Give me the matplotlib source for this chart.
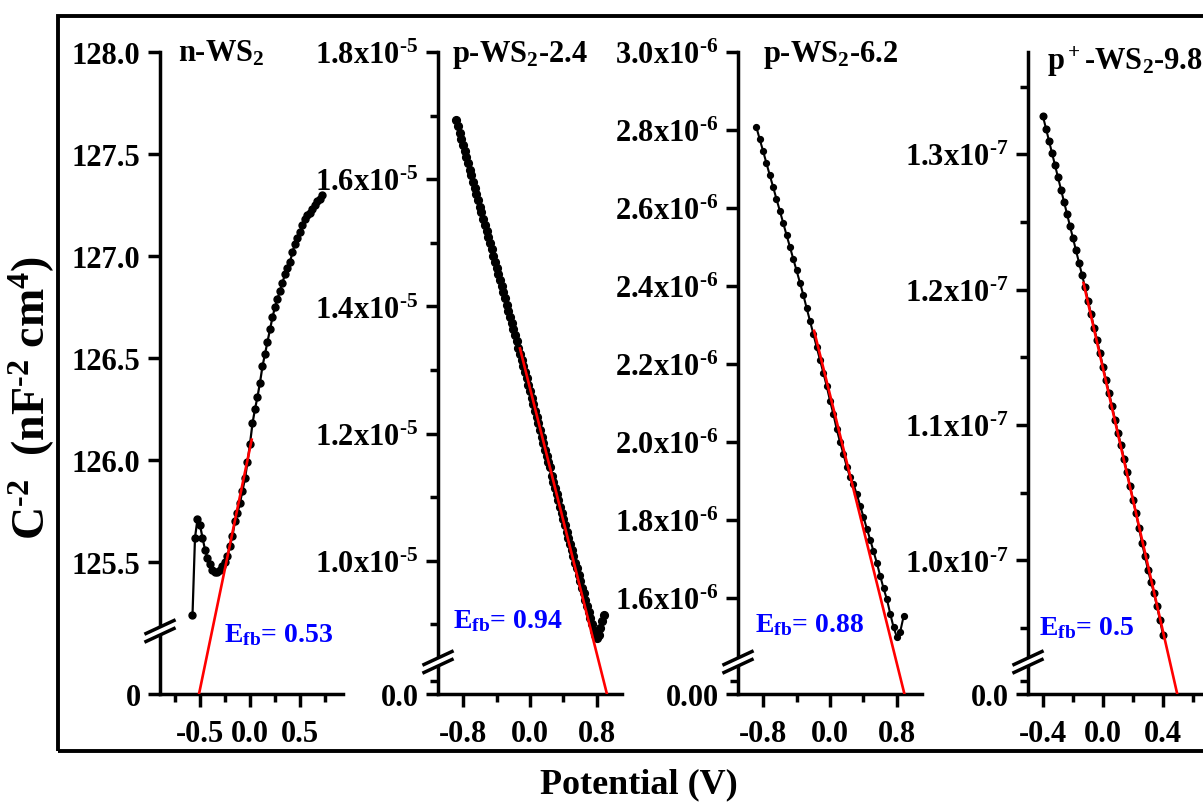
import numpy as np
import matplotlib
matplotlib.use('Agg')
import matplotlib.pyplot as plt
from matplotlib.lines import Line2D
from matplotlib.patches import Polygon, Rectangle

plt.rcParams['font.family'] = ['Liberation Serif', 'DejaVu Serif']
plt.rcParams['font.weight'] = 'bold'
plt.rcParams['mathtext.fontset'] = 'custom'
plt.rcParams['mathtext.rm'] = 'Liberation Serif:bold'
plt.rcParams['mathtext.it'] = 'Liberation Serif:bold'
plt.rcParams['mathtext.bf'] = 'Liberation Serif:bold'
plt.rcParams['mathtext.default'] = 'rm'

# ---------------- data ----------------
# n-WS2
n_V = [-0.575, -0.55, -0.525, -0.50, -0.475, -0.45, -0.425, -0.40, -0.375, -0.35,
       -0.325, -0.30, -0.275, -0.25, -0.225, -0.20, -0.175, -0.15, -0.125, -0.10,
       -0.075, -0.05, -0.025, 0.0, 0.025, 0.05, 0.075, 0.10, 0.125, 0.15,
       0.175, 0.20, 0.225, 0.25, 0.275, 0.30, 0.325, 0.35, 0.375, 0.40,
       0.425, 0.45, 0.475, 0.50, 0.525, 0.55, 0.575, 0.60, 0.625, 0.65,
       0.675, 0.70, 0.725]
n_C = [125.24, 125.62, 125.71, 125.68, 125.62, 125.56, 125.52, 125.49, 125.46, 125.45,
       125.45, 125.46, 125.48, 125.50, 125.53, 125.58, 125.63, 125.70, 125.74, 125.79,
       125.85, 125.91, 125.99, 126.08, 126.18, 126.25, 126.31, 126.38, 126.46, 126.52,
       126.58, 126.64, 126.70, 126.75, 126.79, 126.83, 126.87, 126.91, 126.94, 126.97,
       127.02, 127.06, 127.09, 127.12, 127.15, 127.18, 127.20, 127.21, 127.23, 127.25,
       127.27, 127.28, 127.30]
n_fit_V = [-0.51, 0.017]
n_fit_C = [0.0, 126.10]

# p-WS2-2.4 (values in 1e-5)
p24_unit = 1e-5
p24_V = [-0.88, -0.86, -0.84, -0.82, -0.80, -0.78, -0.76, -0.74, -0.72, -0.70,
         -0.68, -0.66, -0.64, -0.62, -0.60, -0.58, -0.56, -0.54, -0.52, -0.50,
         -0.48, -0.46, -0.44, -0.42, -0.40, -0.38, -0.36, -0.34, -0.32, -0.30,
         -0.28, -0.26, -0.24, -0.22, -0.20, -0.18, -0.16, -0.14, -0.12, -0.10,
         -0.08, -0.06, -0.04, -0.02, 0.00, 0.02, 0.04, 0.06, 0.08, 0.10,
         0.12, 0.14, 0.16, 0.18, 0.20, 0.22, 0.24, 0.26, 0.28, 0.30,
         0.32, 0.34, 0.36, 0.38, 0.40, 0.42, 0.44, 0.46, 0.48, 0.50,
         0.52, 0.54, 0.56, 0.58, 0.60, 0.62, 0.64, 0.66, 0.68, 0.70,
         0.72, 0.74, 0.76, 0.78, 0.80, 0.82, 0.84, 0.86, 0.88]
p24_C = [1.693, 1.683, 1.673, 1.664, 1.654, 1.644, 1.635, 1.625, 1.615, 1.606,
         1.596, 1.586, 1.577, 1.567, 1.557, 1.548, 1.538, 1.528, 1.519, 1.509,
         1.499, 1.490, 1.480, 1.470, 1.461, 1.451, 1.442, 1.432, 1.422, 1.413,
         1.403, 1.393, 1.384, 1.374, 1.364, 1.355, 1.345, 1.335, 1.326, 1.316,
         1.306, 1.297, 1.287, 1.277, 1.267, 1.256, 1.246, 1.236, 1.226, 1.216,
         1.205, 1.195, 1.185, 1.175, 1.165, 1.156, 1.148, 1.134, 1.124, 1.115,
         1.105, 1.095, 1.085, 1.075, 1.066, 1.056, 1.046, 1.036, 1.027, 1.017,
         1.007, 0.997, 0.988, 0.978, 0.968, 0.958, 0.949, 0.939, 0.929, 0.919,
         0.910, 0.900, 0.890, 0.883, 0.878, 0.884, 0.895, 0.905, 0.915]
p24_fit_V = [-0.12, 0.92]
p24_fit_C = [1.334, 0.0]

# p-WS2-6.2 (values in 1e-6)
p62_unit = 1e-6
p62_V = [-0.88, -0.84, -0.80, -0.76, -0.72, -0.68, -0.64, -0.60, -0.56, -0.52,
         -0.48, -0.44, -0.40, -0.36, -0.32, -0.28, -0.24, -0.20, -0.16, -0.12,
         -0.08, -0.04, 0.00, 0.04, 0.08, 0.12, 0.16, 0.20, 0.24, 0.28,
         0.32, 0.36, 0.40, 0.44, 0.48, 0.52, 0.56, 0.60, 0.64, 0.68,
         0.72, 0.76, 0.80, 0.84, 0.88]
p62_C = [2.807, 2.776, 2.746, 2.715, 2.684, 2.654, 2.623, 2.593, 2.562, 2.531,
         2.501, 2.470, 2.440, 2.409, 2.378, 2.344, 2.311, 2.278, 2.244, 2.211,
         2.178, 2.144, 2.106, 2.072, 2.033, 2.000, 1.970, 1.937, 1.910, 1.892,
         1.866, 1.837, 1.808, 1.778, 1.750, 1.720, 1.690, 1.657, 1.625, 1.597,
         1.560, 1.525, 1.500, 1.514, 1.553]
p62_fit_V = [-0.19, 0.89]
p62_fit_C = [2.285, 0.0]

# p+-WS2-9.8 (values in 1e-7)
p98_unit = 1e-7
p98_V = [-0.40, -0.38, -0.36, -0.34, -0.32, -0.30, -0.28, -0.26, -0.24, -0.22,
         -0.20, -0.18, -0.16, -0.14, -0.12, -0.10, -0.08, -0.06, -0.04, -0.02,
         0.00, 0.02, 0.04, 0.06, 0.08, 0.10, 0.12, 0.14, 0.16, 0.18,
         0.20, 0.22, 0.24, 0.26, 0.28, 0.30, 0.32, 0.34, 0.36, 0.38, 0.40]
p98_C = [1.328, 1.319, 1.310, 1.301, 1.292, 1.283, 1.274, 1.265, 1.256, 1.247,
         1.238, 1.229, 1.220, 1.211, 1.202, 1.192, 1.182, 1.172, 1.163, 1.153,
         1.143, 1.133, 1.124, 1.114, 1.104, 1.094, 1.085, 1.075, 1.065, 1.055,
         1.045, 1.035, 1.024, 1.013, 1.003, 0.993, 0.984, 0.976, 0.966, 0.956, 0.945]
p98_fit_V = [-0.13, 0.495]
p98_fit_C = [1.205, 0.0]

titles = ['n-WS$_2$', 'p-WS$_2$-2.4', 'p-WS$_2$-6.2', 'p$^+$-WS$_2$-9.8']
efb_labels = ['E$_{fb}$= 0.53', 'E$_{fb}$= 0.94', 'E$_{fb}$= 0.88', 'E$_{fb}$= 0.5']

# ---------------- figure ----------------
W, H = 1203, 803
fig = plt.figure(figsize=(W / 100, H / 100), dpi=100)

AX_TOP, AX_BOT = 53, 695


def fx(x):
    return x / W


def fy(y):
    return 1 - y / H


def make_break_scale(L, U, top, fb, eps=1e-4):
    xp = np.array([0.0, L, U, top])
    fp = np.array([0.0, fb - eps, fb, 1.0])

    def fwd(y):
        y = np.asarray(y, dtype=float)
        out = np.interp(y, xp, fp)
        out = np.where(y < 0, y / L * (fb - eps), out)
        out = np.where(y > top, 1 + (y - top) * (1 - fb) / (top - U), out)
        return out

    def inv(f):
        f = np.asarray(f, dtype=float)
        out = np.interp(f, fp, xp)
        out = np.where(f < 0, f * L / (fb - eps), out)
        out = np.where(f > 1, top + (f - 1) * (top - U) / (1 - fb), out)
        return out
    return fwd, inv


def sci(v, e):
    return '%.1fx10$^{\\text{-%d}}$' % (v, e)


panels = [
    dict(px=(160, 343), xlim=(-0.9, 0.93), V=n_V, C=n_C, unit=1.0,
         fV=n_fit_V, fC=n_fit_C, top=128.0, brk=632, U=125.162, L=1.0,
         yt=[0, 125.5, 126.0, 126.5, 127.0, 127.5, 128.0],
         ytl=['0', '125.5', '126.0', '126.5', '127.0', '127.5', '128.0'],
         ymin=[], xt=[-0.5, 0.0, 0.5], xtl=['-0.5', '0.0', '0.5'],
         xmin=[-0.75, -0.25, 0.25, 0.75], ms=5.0, lw=1.6,
         title_xy=(178, 62), efb_xy=(224, 642)),
    dict(px=(438, 622), xlim=(-1.1, 1.1), V=p24_V, C=p24_C, unit=p24_unit,
         fV=p24_fit_V, fC=p24_fit_C, top=1.8e-5, brk=663, U=0.841e-5, L=0.25e-5,
         yt=[0, 1.0e-5, 1.2e-5, 1.4e-5, 1.6e-5, 1.8e-5],
         ytl=['0.0'] + [sci(v, 5) for v in (1.0, 1.2, 1.4, 1.6, 1.8)],
         ymin=[0.1e-5, 0.9e-5, 1.1e-5, 1.3e-5, 1.5e-5, 1.7e-5],
         xt=[-0.8, 0.0, 0.8], xtl=['-0.8', '0.0', '0.8'], xmin=[-0.4, 0.4],
         ms=5.6, lw=2.4, title_xy=(452, 62), efb_xy=(453, 628)),
    dict(px=(738, 922), xlim=(-1.1, 1.1), V=p62_V, C=p62_C, unit=p62_unit,
         fV=p62_fit_V, fC=p62_fit_C, top=3.0e-6, brk=663, U=1.436e-6, L=0.5e-6,
         yt=[0, 1.6e-6, 1.8e-6, 2.0e-6, 2.2e-6, 2.4e-6, 2.6e-6, 2.8e-6, 3.0e-6],
         ytl=['0.00'] + [sci(v, 6) for v in (1.6, 1.8, 2.0, 2.2, 2.4, 2.6, 2.8, 3.0)],
         ymin=[0.2e-6], xt=[-0.8, 0.0, 0.8], xtl=['-0.8', '0.0', '0.8'],
         xmin=[-0.4, 0.4], ms=4.2, lw=1.5, title_xy=(763, 62), efb_xy=(755, 632)),
    dict(px=(1028, 1211), xlim=(-0.5, 0.72), V=p98_V, C=p98_C, unit=p98_unit,
         fV=p98_fit_V, fC=p98_fit_C, top=1.3756e-7, brk=663, U=0.925e-7, L=0.125e-7,
         yt=[0, 1.0e-7, 1.1e-7, 1.2e-7, 1.3e-7],
         ytl=['0.0'] + [sci(v, 7) for v in (1.0, 1.1, 1.2, 1.3)],
         ymin=[0.05e-7, 0.95e-7, 1.05e-7, 1.15e-7, 1.25e-7, 1.35e-7],
         xt=[-0.4, 0.0, 0.4], xtl=['-0.4', '0.0', '0.4'], xmin=[-0.2, 0.2, 0.6],
         ms=4.8, lw=1.5, title_xy=(1047, 70), efb_xy=(1039, 635)),
]

for i, p in enumerate(panels):
    l, r = p['px']
    ax = fig.add_axes([fx(l), fy(AX_BOT), (r - l) / W, (AX_BOT - AX_TOP) / H])
    ax.patch.set_visible(False)
    fb = (AX_BOT - p['brk']) / (AX_BOT - AX_TOP)
    fwd, inv = make_break_scale(p['L'], p['U'], p['top'], fb)
    ax.set_yscale('function', functions=(fwd, inv))
    ax.set_ylim(0, p['top'])
    ax.set_xlim(*p['xlim'])

    V = np.array(p['V'])
    C = np.array(p['C']) * p['unit']
    ax.plot(V, C, '-', color='black', lw=p['lw'], marker='o', ms=p['ms'],
            mfc='black', mec='black', zorder=3)
    ax.plot(np.array(p['fV']), np.array(p['fC']) * p['unit'], '-', color='#ff0000',
            lw=1.9, zorder=4)

    for s in ('top', 'right'):
        ax.spines[s].set_visible(False)
    for s in ('left', 'bottom'):
        ax.spines[s].set_linewidth(2.5)

    ax.set_yticks(p['yt'], p['ytl'])
    ax.set_yticks(p['ymin'], minor=True)
    ax.set_xticks(p['xt'], p['xtl'])
    ax.set_xticks(p['xmin'], minor=True)
    ax.tick_params(axis='both', which='major', direction='out', length=9,
                   width=2.5, labelsize=22)
    ax.tick_params(axis='both', which='minor', direction='out', length=5.5,
                   width=2.5)
    ax.tick_params(axis='y', which='major', pad=5)
    ax.tick_params(axis='x', which='major', pad=9)

    # axis break symbol
    xa, yb = l, p['brk']
    hw, rise, gap = 14.0, 6.5, 4.0
    poly = Polygon([(fx(xa - hw), fy(yb + rise + gap)), (fx(xa + hw), fy(yb - rise + gap)),
                    (fx(xa + hw), fy(yb - rise - gap)), (fx(xa - hw), fy(yb + rise - gap))],
                   closed=True, transform=fig.transFigure, facecolor='white',
                   edgecolor='none', zorder=10)
    fig.add_artist(poly)
    for off in (gap, -gap):
        fig.add_artist(Line2D([fx(xa - hw), fx(xa + hw)],
                              [fy(yb + rise + off), fy(yb - rise + off)],
                              transform=fig.transFigure, color='black', lw=2.5,
                              zorder=11))

    tx, ty = p['title_xy']
    fig.text(fx(tx), fy(ty), titles[i], fontsize=22, fontweight='bold',
             ha='left', va='baseline')
    ex, ey = p['efb_xy']
    fig.text(fx(ex), fy(ey), efb_labels[i], fontsize=20, fontweight='bold',
             color='#0000ff', ha='left', va='baseline')

# outer frame
fig.add_artist(Rectangle((fx(58), fy(752)), fx(1260 - 58), (752 - 17) / H,
                         transform=fig.transFigure, fill=False, edgecolor='black',
                         lw=2.8, zorder=12))

fig.text(fx(639), fy(785), 'Potential (V)', fontsize=26, fontweight='bold',
         ha='center', va='center')
fig.text(fx(32), fy(398), 'C$^{\\text{-2}}$  (nF$^{\\text{-2}}$ cm$^{4}$)', fontsize=33,
         fontweight='bold', rotation=90, ha='center', va='center')

fig.savefig('out.png', dpi=100)
